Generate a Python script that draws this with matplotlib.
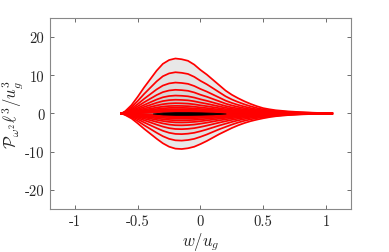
import numpy as np
import matplotlib
matplotlib.use("Agg")
import matplotlib.pyplot as plt

plt.rcParams['mathtext.fontset'] = 'cm'

# ---- data ----
w_grid = [-0.63, -0.60, -0.55, -0.50, -0.45, -0.40, -0.35, -0.30, -0.25, -0.20,
          -0.15, -0.10, -0.05, 0.00, 0.05, 0.10, 0.15, 0.20, 0.25, 0.30,
          0.35, 0.40, 0.45, 0.50, 0.55, 0.60, 0.70, 0.80, 0.90, 1.00, 1.05]
upper_outer = [0.0, 0.6, 2.2, 4.4, 6.8, 9.0, 11.2, 13.0, 14.0, 14.4,
               14.2, 13.8, 12.8, 11.4, 10.2, 8.8, 7.4, 6.0, 4.9, 4.0,
               3.2, 2.5, 1.9, 1.4, 1.1, 0.85, 0.55, 0.35, 0.2, 0.08, 0.0]
lower_outer = [0.0, -0.4, -1.3, -2.6, -4.0, -5.3, -6.6, -7.8, -8.7, -9.2,
               -9.3, -9.1, -8.7, -8.0, -7.2, -6.3, -5.4, -4.6, -3.8, -3.1,
               -2.5, -2.0, -1.6, -1.25, -0.95, -0.72, -0.42, -0.24, -0.12, -0.04, 0.0]
upper_peaks = [14.4, 10.8, 8.1, 6.2, 4.7, 3.6, 2.7, 2.0, 1.5, 1.1, 0.8, 0.6, 0.45]
lower_peaks = [-9.3, -7.1, -5.4, -4.1, -3.1, -2.35, -1.8, -1.35, -1.0, -0.75, -0.57, -0.43]
black_w = [-0.38, -0.30, -0.20, -0.10, 0.00, 0.10, 0.20]
black_h = [0.0, 0.25, 0.35, 0.35, 0.30, 0.20, 0.0]

xticks = [-1, -0.5, 0, 0.5, 1]
xtick_labels = ['-1', '-0.5', '0', '0.5', '1']
yticks = [-20, -10, 0, 10, 20]
ytick_labels = ['-20', '-10', '0', '10', '20']

# ---- figure ----
fig = plt.figure(figsize=(3.89, 2.53), dpi=100)
ax = fig.add_axes([0.1285, 0.17, 0.7738, 0.7549])

w = np.array(w_grid)
up = np.array(upper_outer)
lo = np.array(lower_outer)

n_up = len(upper_peaks)
n_lo = len(lower_peaks)
greys_up = np.linspace(0.91, 0.62, n_up)
greys_lo = np.linspace(0.91, 0.62, n_lo)

for i, p in enumerate(upper_peaks):
    ax.fill_between(w, 0, up * p / upper_peaks[0], color=str(greys_up[i]), lw=0, zorder=1)
for i, p in enumerate(lower_peaks):
    ax.fill_between(w, 0, lo * p / lower_peaks[0], color=str(greys_lo[i]), lw=0, zorder=1)

for p in upper_peaks:
    ax.plot(w, up * p / upper_peaks[0], color='red', lw=1.25, zorder=2)
for p in lower_peaks:
    ax.plot(w, lo * p / lower_peaks[0], color='red', lw=1.25, zorder=2)

bw = np.array(black_w)
bh = np.array(black_h)
ax.fill_between(bw, -bh, bh, color='black', lw=0.6, edgecolor='black', zorder=3)

ax.set_xlim(-1.2, 1.2)
ax.set_ylim(-25, 25)
ax.set_xticks(xticks)
ax.set_yticks(yticks)
ax.set_xticklabels(xtick_labels, fontfamily='cmr10', fontsize=10.5)
ax.set_yticklabels(ytick_labels, fontfamily='cmr10', fontsize=10.5)
ax.tick_params(direction='in', length=3, width=0.6, color='#555555',
               top=True, right=True, pad=4, labelcolor='#262626')
for s in ax.spines.values():
    s.set_color('#888888')
    s.set_linewidth(0.8)

ax.set_xlabel(r'$w/u_g$', fontsize=12, color='#262626', labelpad=1)
ax.set_ylabel(r'$\mathcal{P}_{\omega^2}\ell^3/u_g^3$', fontsize=12, color='#262626', labelpad=0)

fig.savefig('out.png', dpi=100)
